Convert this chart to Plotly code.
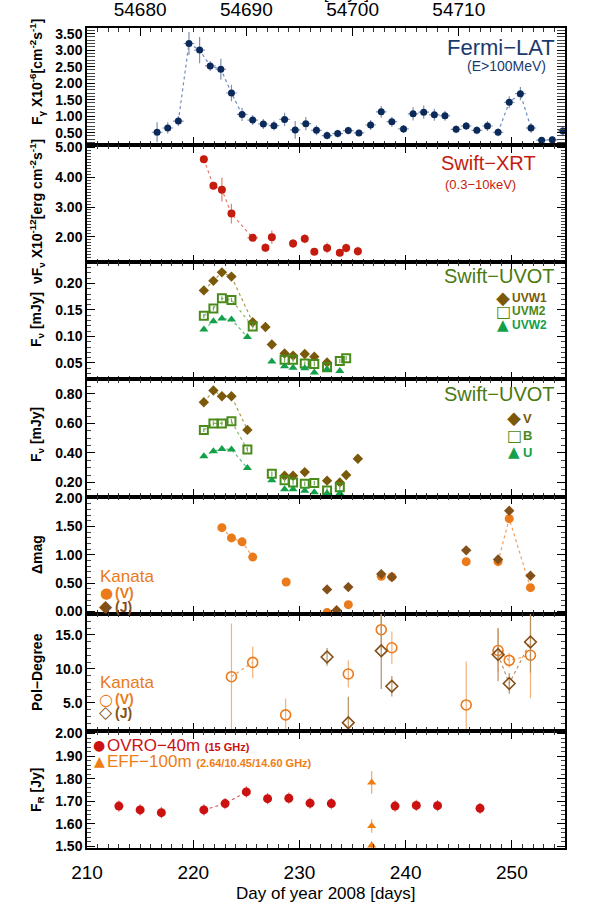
import plotly.graph_objects as go

# ---------------- data ----------------
# Fermi-LAT (E>100 MeV), F_gamma x1e-6
fermi_doy = [216.6, 217.6, 218.6, 219.6, 220.6, 221.6, 222.6, 223.6, 224.6, 225.6,
             226.6, 227.6, 228.6, 229.6, 230.6, 231.6, 232.6, 233.6, 234.6, 235.6,
             236.7, 237.7, 238.7, 239.8, 240.7, 241.7, 242.7, 243.7, 244.75, 245.7,
             246.7, 247.7, 248.7, 249.75, 250.8, 251.8, 252.8, 253.8, 254.8]
fermi_flux = [0.51, 0.64, 0.85, 3.20, 3.00, 2.52, 2.42, 1.70, 1.05, 0.88,
              0.76, 0.71, 0.90, 0.58, 0.77, 0.57, 0.41, 0.47, 0.56, 0.49,
              0.73, 1.13, 0.83, 0.61, 1.07, 1.12, 1.04, 1.01, 0.60, 0.70,
              0.57, 0.70, 0.51, 1.42, 1.68, 0.64, 0.27, 0.28, 0.55]
fermi_err = [0.30, 0.17, 0.15, 0.35, 0.40, 0.15, 0.32, 0.25, 0.20, 0.15,
             0.15, 0.15, 0.20, 0.27, 0.20, 0.15, 0.12, 0.12, 0.12, 0.10,
             0.15, 0.18, 0.15, 0.12, 0.20, 0.20, 0.18, 0.15, 0.12, 0.12,
             0.12, 0.15, 0.12, 0.18, 0.20, 0.15, 0.10, 0.10, 0.12]
fermi_xerr = [0.5] * len(fermi_doy)

# Swift-XRT (0.3-10 keV), nuF_nu x1e-12
xrt_doy = [221.0, 221.9, 222.7, 223.6, 225.6, 226.8, 227.4, 229.4, 230.5, 231.4, 232.6, 233.8, 234.4, 235.5]
xrt_flux = [4.60, 3.71, 3.58, 2.78, 1.97, 1.64, 1.99, 1.78, 1.94, 1.50, 1.63, 1.47, 1.63, 1.52]
xrt_err = [0.12, 0.10, 0.40, 0.33, 0.05, 0.15, 0.22, 0.15, 0.15, 0.12, 0.18, 0.12, 0.15, 0.15]
xrt_xerr = [0, 0, 0, 0, 0.5, 0, 0, 0, 0, 0, 0, 0, 0, 0]

# Swift-UVOT UV bands [mJy]
uvw1_doy = [221.0, 221.9, 222.7, 223.6, 225.6, 226.8, 227.4, 228.6, 229.4, 230.5, 231.4, 232.6]
uvw1_flux = [0.187, 0.205, 0.221, 0.213, 0.127, 0.118, 0.085, 0.068, 0.064, 0.067, 0.062, 0.051]
uvm2_doy = [221.0, 221.9, 222.7, 223.6, 225.6, 228.6, 229.4, 230.5, 231.4, 232.6, 233.8, 234.4]
uvm2_flux = [0.139, 0.153, 0.172, 0.169, 0.119, 0.056, 0.056, 0.049, 0.048, 0.042, 0.054, 0.059]
uvw2_doy = [221.0, 221.9, 222.7, 223.6, 225.1, 227.4, 228.6, 229.4, 230.5, 231.4, 232.6, 233.8]
uvw2_flux = [0.113, 0.129, 0.134, 0.132, 0.099, 0.053, 0.044, 0.041, 0.040, 0.032, 0.038, 0.035]

# Swift-UVOT optical bands [mJy]
v_doy = [221.0, 221.9, 222.7, 223.6, 225.1, 228.6, 229.4, 230.5, 232.6, 233.8, 234.4, 235.5]
v_flux = [0.743, 0.823, 0.784, 0.784, 0.556, 0.245, 0.245, 0.270, 0.212, 0.200, 0.250, 0.360]
b_doy = [221.0, 221.9, 222.7, 223.6, 225.1, 227.4, 228.6, 229.4, 230.5, 231.4, 232.6, 233.8]
b_flux = [0.556, 0.600, 0.600, 0.614, 0.423, 0.259, 0.214, 0.200, 0.191, 0.196, 0.146, 0.168]
u_doy = [221.0, 221.9, 222.7, 223.6, 225.1, 227.4, 228.6, 229.4, 230.5, 231.4, 232.6, 233.8]
u_flux = [0.377, 0.411, 0.427, 0.423, 0.297, 0.214, 0.154, 0.154, 0.143, 0.134, 0.127, 0.127]

# Kanata delta-mag
kv_doy = [222.7, 223.6, 224.6, 225.6, 228.75, 232.6, 233.5, 234.6, 237.7, 238.7, 245.7, 248.7, 249.75, 251.75]
kv_mag = [1.48, 1.30, 1.23, 0.96, 0.52, -0.02, -0.07, 0.12, 0.62, 0.61, 0.88, 0.88, 1.64, 0.42]
kv_err = [0.02, 0.02, 0.02, 0.02, 0.07, 0.03, 0.02, 0.02, 0.03, 0.02, 0.02, 0.02, 0.02, 0.02]
kj_doy = [232.6, 233.5, 234.6, 237.7, 238.7, 245.7, 248.7, 249.75, 251.75]
kj_mag = [0.39, 0.02, 0.43, 0.66, 0.61, 1.08, 0.92, 1.78, 0.63]
kj_err = [0.02, 0.04, 0.04, 0.03, 0.03, 0.03, 0.03, 0.02, 0.02]

# Kanata polarization degree [%]
pv_doy = [223.6, 225.6, 228.7, 234.6, 237.7, 238.7, 245.7, 248.7, 249.75, 251.75]
pv_deg = [8.85, 10.95, 3.25, 9.25, 15.75, 13.10, 4.70, 12.70, 11.25, 12.00]
pv_err = [7.8, 2.3, 2.4, 2.0, 3.0, 2.4, 6.4, 3.2, 1.1, 6.3]
pj_doy = [232.6, 234.6, 237.7, 238.7, 248.7, 249.75, 251.75]
pj_deg = [11.75, 2.10, 12.65, 7.45, 12.10, 7.85, 13.95]
pj_err = [1.3, 3.8, 5.6, 1.5, 3.9, 1.5, 4.5]

# Radio
ovro_doy = [213, 215, 217, 221, 223, 225, 227, 229, 231, 233, 239, 241, 243, 247]
ovro_flux = [1.678, 1.661, 1.649, 1.661, 1.689, 1.741, 1.711, 1.713, 1.691, 1.689, 1.678, 1.681, 1.680, 1.668]
ovro_err = [0.025] * len(ovro_doy)
eff_doy = [236.8, 236.8, 236.8]
eff_flux = [1.783, 1.590, 1.503]
eff_err = [0.05, 0.03, 0.02]

# axes
x_range = [210, 255]
mjd_offset = 54465
mjd_ticks = [54680, 54690, 54700, 54710, 54720]
doy_ticks = [210, 220, 230, 240, 250]

# ---------------- styling ----------------
C_FERMI = "#0b2a5a"
C_FERMI_E = "#8192b4"
C_XRT = "#c41c0e"
C_XRT_E = "#e0806e"
C_BROWN = "#7a5a0a"
C_GREEN = "#4a8a1a"
C_BGREEN = "#12a048"
C_KV = "#ea7a1a"
C_KJ = "#84501a"
C_OVRO = "#cc1111"
C_EFF = "#ef7d12"

FONT = "Liberation Sans"
L, R, T, B = 87, 26, 28, 56
W, H = 591, 904
PW, PH = W - L - R, H - T - B
N = 7


def px(x):
    return (x - L) / PW


def py(y):
    return 1 - (y - T) / PH


fig = go.Figure()


def err(vals, color, thick=1.2, width=0):
    return dict(type="data", array=vals, visible=True, color=color, thickness=thick, width=width)


def add(x, y, row, mode="markers", marker=None, line=None, ey=None, ex=None, clip=True):
    fig.add_trace(go.Scatter(
        x=x, y=y, mode=mode, marker=marker, line=line,
        error_y=ey, error_x=ex, xaxis="x" if row == 1 else f"x{row}",
        yaxis="y" if row == 1 else f"y{row}", showlegend=False, hoverinfo="skip",
        cliponaxis=clip))


def dotted(x, y, row, color):
    add(x, y, row, mode="lines", line=dict(color=color, width=1.2, dash="dot"))


# Panel 1: Fermi
dotted(fermi_doy[2:9], fermi_flux[2:9], 1, "#6f8cc0")
dotted(fermi_doy[32:36], fermi_flux[32:36], 1, "#6f8cc0")
add(fermi_doy, fermi_flux, 1, marker=dict(symbol="circle", size=7, color=C_FERMI),
    ey=err(fermi_err, C_FERMI_E), ex=err(fermi_xerr, C_FERMI_E))

# Panel 2: XRT
dotted(xrt_doy[0:5], xrt_flux[0:5], 2, "#e07a6a")
add(xrt_doy, xrt_flux, 2, marker=dict(symbol="circle", size=8, color=C_XRT),
    ey=err(xrt_err, C_XRT_E), ex=err(xrt_xerr, C_XRT_E))

# Panel 3: UVOT UV
dotted(uvw1_doy[0:5], uvw1_flux[0:5], 3, "#b09a50")
dotted(uvm2_doy[0:5], uvm2_flux[0:5], 3, "#8ab86a")
dotted(uvw2_doy[0:5], uvw2_flux[0:5], 3, "#60c080")
add(uvw1_doy, uvw1_flux, 3, marker=dict(symbol="diamond", size=8, color=C_BROWN),
    ey=err([0.004] * len(uvw1_doy), "#b8a060"))
add(uvm2_doy, uvm2_flux, 3, marker=dict(symbol="square-open", size=8, color=C_GREEN, line=dict(width=2)),
    ey=err([0.004] * len(uvm2_doy), "#7aa85a"))
add(uvw2_doy, uvw2_flux, 3, marker=dict(symbol="triangle-up", size=8, color=C_BGREEN),
    ey=err([0.003] * len(uvw2_doy), "#60c080"))

# Panel 4: UVOT optical
dotted(v_doy[0:5], v_flux[0:5], 4, "#b09a50")
dotted(b_doy[0:5], b_flux[0:5], 4, "#8ab86a")
dotted(u_doy[0:5], u_flux[0:5], 4, "#60c080")
add(v_doy, v_flux, 4, marker=dict(symbol="diamond", size=8, color=C_BROWN),
    ey=err([0.02] * len(v_doy), "#b8a060"))
add(b_doy, b_flux, 4, marker=dict(symbol="square-open", size=8, color=C_GREEN, line=dict(width=2)),
    ey=err([0.015] * len(b_doy), "#7aa85a"))
add(u_doy, u_flux, 4, marker=dict(symbol="triangle-up", size=8, color=C_BGREEN),
    ey=err([0.01] * len(u_doy), "#60c080"))

# Panel 5: Kanata delta mag
dotted(kv_doy[0:4], kv_mag[0:4], 5, "#f0a060")
dotted(kv_doy[11:14], kv_mag[11:14], 5, "#f0a060")
add(kv_doy, kv_mag, 5, marker=dict(symbol="circle", size=9, color=C_KV), ey=err(kv_err, "#f4b070"))
add(kj_doy, kj_mag, 5, marker=dict(symbol="diamond", size=8, color=C_KJ), ey=err(kj_err, "#b08050"))

# Panel 6: polarization
dotted(pv_doy[0:2], pv_deg[0:2], 6, "#f0a060")
dotted(pv_doy[7:10], pv_deg[7:10], 6, "#f0a060")
dotted(pj_doy[4:7], pj_deg[4:7], 6, "#c09060")
add(pv_doy, pv_deg, 6, marker=dict(symbol="circle-open", size=10, color=C_KV, line=dict(width=1.6)),
    ey=err(pv_err, "#f2b27a"), clip=False)
add(pj_doy, pj_deg, 6, marker=dict(symbol="diamond-open", size=9, color=C_KJ, line=dict(width=1.6)),
    ey=err(pj_err, "#b89060"), clip=False)

# Panel 7: radio
dotted(ovro_doy[3:6], ovro_flux[3:6], 7, "#e06060")
add(ovro_doy, ovro_flux, 7, marker=dict(symbol="circle", size=9, color=C_OVRO), ey=err(ovro_err, "#e07070"))
add(eff_doy, eff_flux, 7, marker=dict(symbol="triangle-up", size=8, color=C_EFF), ey=err(eff_err, "#f4a860"))

# dummy trace for the top MJD axis
fig.add_trace(go.Scatter(x=[mjd_offset + x_range[0]], y=[1.0], xaxis="x8", yaxis="y",
                         mode="markers", marker=dict(opacity=0), showlegend=False, hoverinfo="skip"))

# ---------------- axes ----------------
y_ranges = [[0.12, 3.67], [1.15, 5.07], [0.019, 0.24], [0.104, 0.898], [-0.04, 2.03], [0.9, 18.1], [1.492, 2.012]]
y_dticks = [0.5, 1.0, 0.05, 0.2, 0.5, 5.0, 0.1]
y_minor = [0.1, 0.1, 0.01, 0.05, 0.1, 1.0, 0.02]
y_fmt = [".2f", ".2f", ".2f", ".2f", ".2f", ".1f", ".2f"]

tickfont = dict(family=FONT, size=14, color="black", weight="bold")
layout = {}
for i in range(N):
    r = i + 1
    top = 1 - i / N
    bot = 1 - (i + 1) / N
    xname = "xaxis" if r == 1 else f"xaxis{r}"
    yname = "yaxis" if r == 1 else f"yaxis{r}"
    last = r == N
    layout[xname] = dict(
        domain=[0, 1], range=x_range, anchor="y" if r == 1 else f"y{r}",
        matches=None if r == 1 else "x", automargin=False,
        showline=True, linecolor="black", linewidth=1.5,
        mirror=False if r == 1 else "allticks",
        ticks="inside", ticklen=8, tickwidth=1.3, tickcolor="black",
        tickvals=doy_ticks, showticklabels=last, showgrid=False, zeroline=False,
        ticklabelstandoff=6,
        minor=dict(ticks="inside", ticklen=4, tickwidth=1, tickcolor="#333", dtick=1, tick0=210, showgrid=False),
        tickfont=dict(family=FONT, size=19, color="black"),
    )
    layout[yname] = dict(
        domain=[bot, top], range=y_ranges[i], anchor="x" if r == 1 else f"x{r}",
        automargin=False,
        showline=True, linecolor="black", linewidth=1.5, mirror="allticks",
        ticks="inside", ticklen=8, tickwidth=1.3, tickcolor="black",
        dtick=y_dticks[i], tick0=0, tickformat=y_fmt[i],
        showgrid=False, zeroline=False, tickfont=tickfont,
        minor=dict(ticks="inside", ticklen=4, tickwidth=1, tickcolor="#444", dtick=y_minor[i], showgrid=False),
    )

layout["xaxis8"] = dict(
    overlaying="x", side="top", anchor="y", range=[x_range[0] + mjd_offset, x_range[1] + mjd_offset],
    automargin=False,
    tickvals=mjd_ticks, ticktext=[str(t) for t in mjd_ticks], showline=True, linecolor="black", linewidth=1.5,
    ticks="inside", ticklen=8, tickwidth=1.3, tickcolor="black", showgrid=False, zeroline=False,
    ticklabelstandoff=3,
    minor=dict(ticks="inside", ticklen=4, tickwidth=1, tickcolor="#333", dtick=1, tick0=54675, showgrid=False),
    tickfont=dict(family=FONT, size=19, color="black"),
)

fig.update_layout(**layout)

# ---------------- annotations ----------------
ann = []


def text(x, y, s, size, color, xanchor="left", yanchor="middle", weight="normal", angle=0):
    ann.append(dict(x=px(x), y=py(y), xref="paper", yref="paper", text=s, showarrow=False,
                    xanchor=xanchor, yanchor=yanchor, textangle=angle,
                    font=dict(family=FONT, size=size, color=color, weight=weight)))


def symlabel(x, y, ch, chsize, label, size, color, chcolor=None, gap=7, dy=0):
    # legend glyph (centered on x) followed by its label
    ann.append(dict(x=px(x), y=py(y + dy), xref="paper", yref="paper", text=ch, showarrow=False,
                    xanchor="center", yanchor="middle",
                    font=dict(family="DejaVu Sans", size=chsize, color=chcolor or color)))
    text(x + gap, y, label, size, color, "left")


# y-axis titles
yt_x = 37
text(yt_x, 72, "F<sub>γ</sub> X10<sup>-6</sup>[cm<sup>-2</sup>s<sup>-1</sup>]", 14, "black", "center", weight="bold", angle=-90)
text(yt_x, 212, "νF<sub>ν</sub> X10<sup>-12</sup>[erg cm<sup>-2</sup>s<sup>-1</sup>]", 14, "black", "center", weight="bold", angle=-90)
text(yt_x, 320, "F<sub>ν</sub> [mJy]", 14, "black", "center", weight="bold", angle=-90)
text(yt_x, 435, "F<sub>ν</sub> [mJy]", 14, "black", "center", weight="bold", angle=-90)
text(yt_x, 555, "Δmag", 14, "black", "center", weight="bold", angle=-90)
text(yt_x, 672, "Pol−Degree", 14, "black", "center", weight="bold", angle=-90)
text(yt_x, 790, "F<sub>R</sub> [Jy]", 14, "black", "center", weight="bold", angle=-90)

# x titles
text(326, 893, "Day of year 2008 [days]", 17, "black", "center")
text(326, 5, "MJD [days]", 17, "black", "center", yanchor="bottom")

# Fermi
text(557, 47, "Fermi−LAT", 22, "#1a3a6e", "right")
text(548, 66, "(E>100MeV)", 14, "#1a3a6e", "right")
# XRT
text(538, 163, "Swift−XRT", 20, C_XRT, "right")
text(518, 185, "(0.3−10keV)", 13, C_XRT, "right")
# UVOT UV
text(557, 276, "Swift−UVOT", 20, "#4a7a10", "right")
symlabel(503, 298, "◆", 18, "<b>UVW1</b>", 12, C_BROWN, dy=-1)
symlabel(503, 311, "□", 16, "<b>UVM2</b>", 12, C_GREEN)
symlabel(503, 325, "▲", 15, "<b>UVW2</b>", 12, C_BGREEN)
# UVOT optical
text(557, 394, "Swift−UVOT", 20, "#4a7a10", "right")
symlabel(514, 418, "◆", 18, "<b>V</b>", 13, C_BROWN, dy=-1)
symlabel(514, 435, "□", 16, "<b>B</b>", 13, C_GREEN)
symlabel(514, 452, "▲", 15, "<b>U</b>", 13, C_BGREEN)
# Kanata mag
text(98, 576, "Kanata", 17, C_KV, "left")
symlabel(106, 593, "●", 15, "<b>(V)</b>", 14, C_KV, gap=7)
symlabel(106, 607, "◆", 17, "<b>(J)</b>", 14, C_KJ, gap=7, dy=-1)
# Kanata pol
text(98, 682, "Kanata", 17, C_KV, "left")
symlabel(106, 699, "○", 16, "<b>(V)</b>", 14, C_KV, gap=7)
symlabel(106, 713, "◇", 17, "<b>(J)</b>", 14, C_KJ, gap=7, dy=-1)
# Radio
symlabel(99, 745, "●", 14, "OVRO−40m <b><span style='font-size:11px'>(15 GHz)</span></b>", 17, C_OVRO, gap=6)
symlabel(99, 761, "▲", 14, "EFF−100m <b><span style='font-size:11px'>(2.64/10.45/14.60 GHz)</span></b>", 17, C_EFF, gap=6)

fig.update_layout(
    width=W, height=H, margin=dict(l=L, r=R, t=T, b=B, autoexpand=False),
    paper_bgcolor="white", plot_bgcolor="white",
    annotations=ann, showlegend=False,
    font=dict(family=FONT),
)

fig.write_html("out.html", config={"displayModeBar": False},
               post_script="document.body.style.margin='0';document.body.style.overflow='hidden';")
